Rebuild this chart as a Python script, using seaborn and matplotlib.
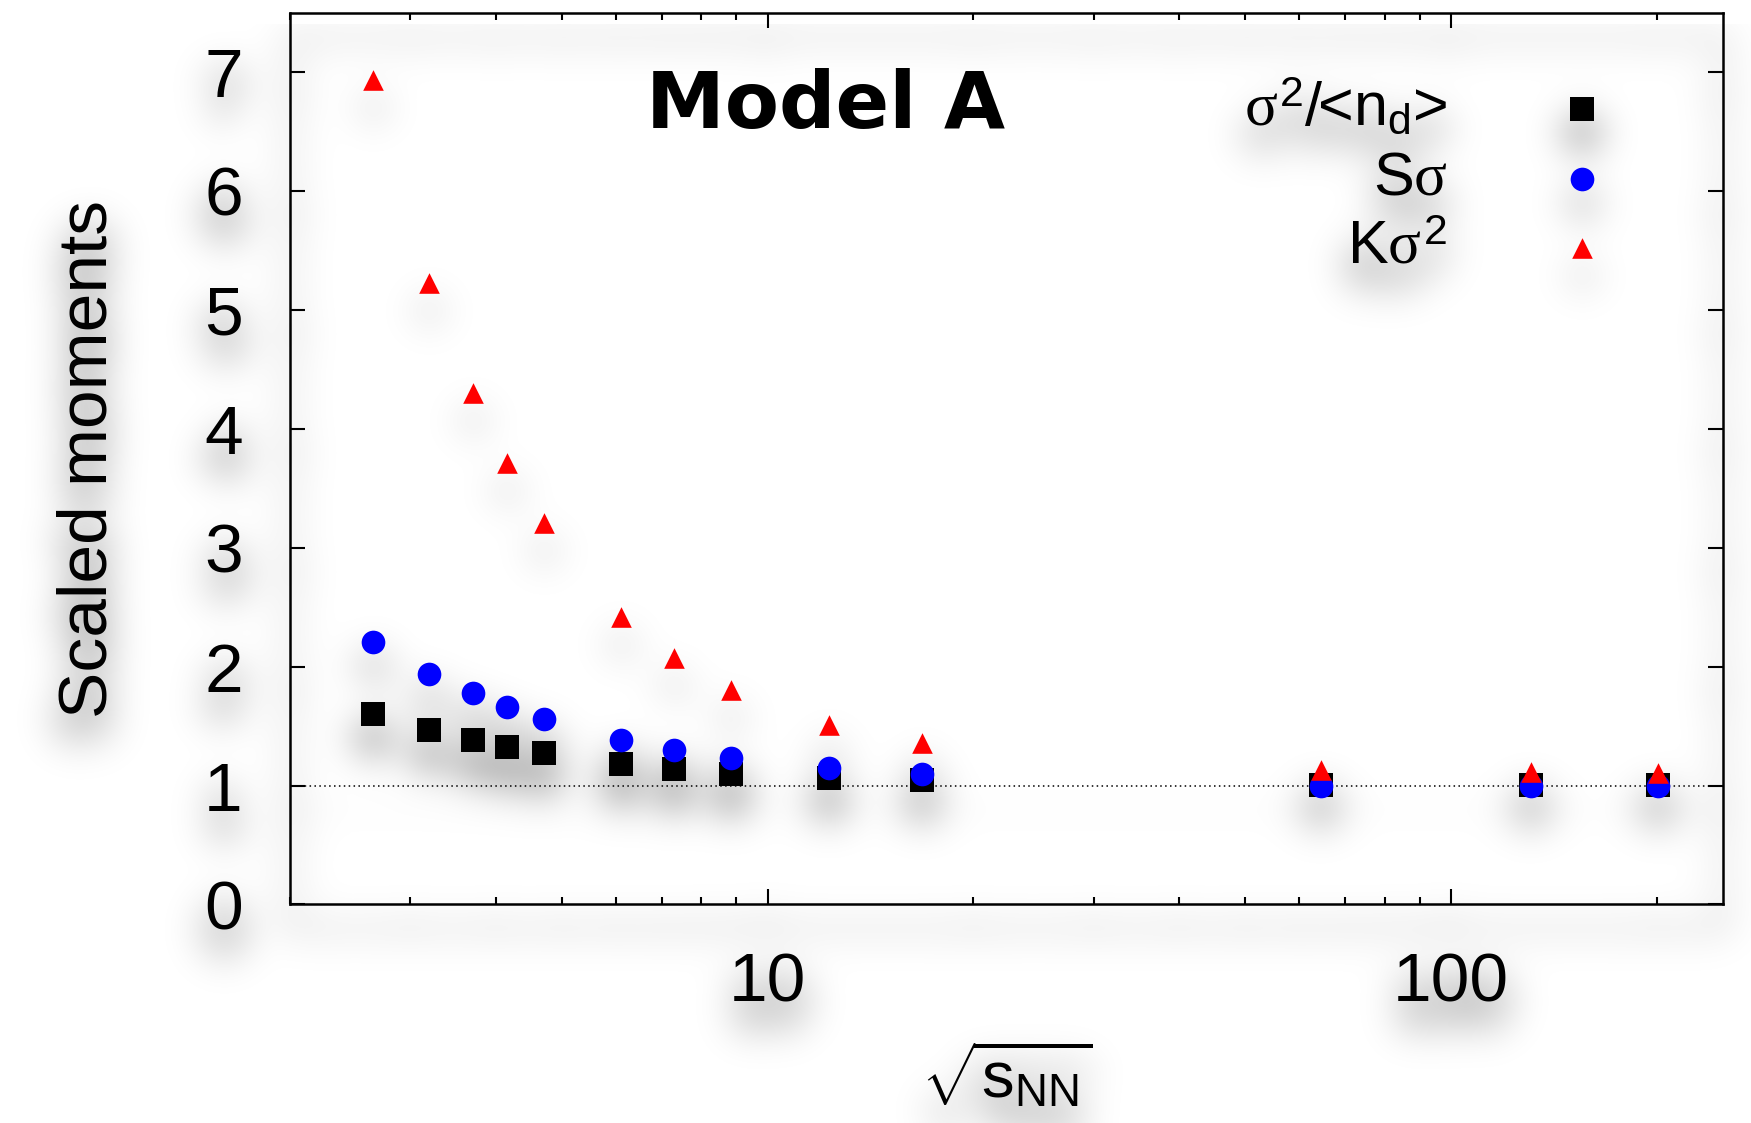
import matplotlib
matplotlib.use('Agg')
import numpy as np
import pandas as pd
import seaborn as sns
import matplotlib.pyplot as plt
from matplotlib import ticker

# sqrt(s_NN) and scaled moments
energy = [2.65, 3.2, 3.7, 4.15, 4.7, 6.1, 7.3, 8.85, 12.3, 16.8, 64.5, 131, 201]
var_ratio = [1.60, 1.47, 1.38, 1.32, 1.27, 1.18, 1.14, 1.10, 1.06, 1.045, 1.005, 1.003, 1.002]
skew_sigma = [2.21, 1.94, 1.775, 1.66, 1.56, 1.38, 1.30, 1.23, 1.15, 1.10, 1.0, 1.0, 1.0]
kurt_sigma2 = [6.93, 5.23, 4.30, 3.71, 3.21, 2.42, 2.07, 1.805, 1.51, 1.36, 1.13, 1.11, 1.105]

labels = [r'$\sigma^2$/<n$_{\mathrm{d}}$>', r'S$\sigma$', r'K$\sigma^2$']
title = 'Model A'

sns.set_style('ticks')
plt.rcParams['font.family'] = ['Liberation Sans', 'DejaVu Sans']
plt.rcParams['mathtext.fontset'] = 'custom'
plt.rcParams['mathtext.rm'] = 'Liberation Sans'
plt.rcParams['mathtext.it'] = 'Liberation Serif'
plt.rcParams['mathtext.sf'] = 'Liberation Sans'
for key in ['text.color', 'axes.labelcolor', 'xtick.color', 'ytick.color',
            'axes.edgecolor']:
    plt.rcParams[key] = 'black'

df = pd.DataFrame({'energy': energy, 'var': var_ratio,
                   'skew': skew_sigma, 'kurt': kurt_sigma2})

fig = plt.figure(figsize=(17.51, 11.23), dpi=100, facecolor='white')
ax = fig.add_axes([0.1656, 0.1946, 0.984 - 0.1656, 0.9888 - 0.1946])
ax.set_facecolor('none')

ax.axhline(1, color='black', lw=1.1, ls=(0, (1, 2.2)), zorder=1)

sns.scatterplot(data=df, x='energy', y='var', marker='s', color='black',
                s=300, linewidth=0, label=labels[0], ax=ax, zorder=3)
sns.scatterplot(data=df, x='energy', y='skew', marker='o', color='blue',
                s=290, linewidth=0, label=labels[1], ax=ax, zorder=4)
sns.scatterplot(data=df, x='energy', y='kurt', marker='^', color='red',
                s=220, linewidth=0, label=labels[2], ax=ax, zorder=5)

ax.set_xscale('log')
ax.set_xlim(2, 250)
ax.set_ylim(0, 7.5)
ax.xaxis.set_major_locator(ticker.FixedLocator([10, 100]))
ax.xaxis.set_major_formatter(ticker.FormatStrFormatter('%d'))
ax.xaxis.set_minor_locator(ticker.LogLocator(base=10, subs=np.arange(2, 10)))
ax.xaxis.set_minor_formatter(ticker.NullFormatter())
ax.yaxis.set_major_locator(ticker.MultipleLocator(1))

for s in ax.spines.values():
    s.set_visible(True)
    s.set_linewidth(1.8)
    s.set_color('black')
ax.tick_params(which='both', direction='in', top=True, right=True,
               color='black', labelcolor='black', width=1.5)
ax.tick_params(which='major', length=11, labelsize=50, pad=34)
ax.tick_params(which='minor', length=5)

ax.set_xlabel(r'$\sqrt{\mathrm{s}_{\mathrm{NN}}}$', fontsize=47)
ax.xaxis.set_label_coords(0.5, -0.153)
ax.xaxis.label.set_va('top')
ax.set_ylabel('Scaled moments', fontsize=50)
ax.yaxis.set_label_coords(-0.118, 0.5)

ax.legend(loc='upper right', bbox_to_anchor=(0.942, 0.962), frameon=False,
          fontsize=44, markerfirst=False, handlelength=0.9,
          handletextpad=1.75, labelspacing=0.2, borderpad=0,
          scatterpoints=1)

# soft drop shadow under everything drawn so far (the title has none)
fig.canvas.draw()
img = np.asarray(fig.canvas.buffer_rgba()).astype(float) / 255.0
ink = 1.0 - img[..., :3].mean(axis=2)

sigma = 20
r = int(3 * sigma)
k = np.exp(-0.5 * (np.arange(-r, r + 1) / sigma) ** 2)
k /= k.sum()
blur = np.apply_along_axis(lambda v: np.convolve(v, k, mode='same'), 0, ink)
blur = np.apply_along_axis(lambda v: np.convolve(v, k, mode='same'), 1, blur)
shift = 24
blur = np.roll(blur, shift, axis=0)
blur[:shift] = 0

shadow = np.zeros(img.shape)
shadow[..., 3] = np.clip(blur * 0.72, 0, 1)
fig.figimage(shadow, xo=0, yo=0, origin='upper', zorder=-1)

ax.text(0.374, 0.871, title, transform=ax.transAxes, ha='center',
        va='baseline', fontsize=57, fontweight='bold', family='DejaVu Sans')

fig.savefig('out.png', dpi=100, facecolor='white')
